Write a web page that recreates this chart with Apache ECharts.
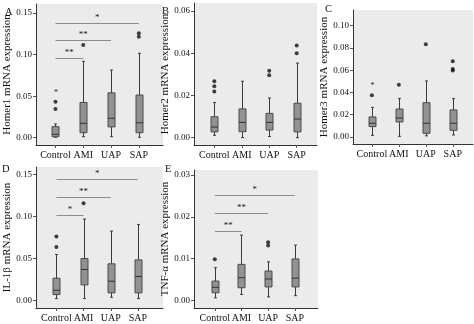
<!DOCTYPE html>
<html><head><meta charset="utf-8">
<script src="https://cdn.jsdelivr.net/npm/echarts@6/dist/echarts.min.js"></script>
<style>html,body{margin:0;padding:0;background:#fff}#c{width:474px;height:324px}</style>
</head><body><div id="c"></div>
<script>
const categories = ['Control', 'AMI', 'UAP', 'SAP'];

// box stats per category: [min, Q1, median, Q3, max]
const homer1Box = [[0.0005, 0.0012, 0.0041, 0.0133, 0.0165], [0.0012, 0.006, 0.0173, 0.0424, 0.092], [0.0012, 0.013, 0.0234, 0.054, 0.0815], [0.0005, 0.006, 0.018, 0.0514, 0.1016]];
const homer1Out = [[0, 0.0434], [0, 0.0346], [1, 0.1117], [3, 0.1258], [3, 0.1217]];
const homer1Ext = [[0, 0.0563]];
const homer1Ticks = [0, 0.05, 0.10, 0.15];
const homer1Sig = [[0, 1, 0.0957, '**'], [0, 2, 0.1177, '**'], [0, 3, 0.1386, '*']];

const homer2Box = [[0.0011, 0.0027, 0.005, 0.0099, 0.0166], [0.0, 0.0028, 0.0072, 0.0136, 0.0267], [0.0005, 0.0036, 0.0072, 0.0115, 0.0188], [0.0, 0.0027, 0.0088, 0.0163, 0.0353]];
const homer2Out = [[0, 0.0267], [0, 0.0243], [0, 0.0218], [2, 0.0317], [2, 0.0296], [3, 0.0436], [3, 0.040]];
const homer2Ext = [];
const homer2Ticks = [0, 0.02, 0.04, 0.06];
const homer2Sig = [];

const homer3Box = [[0.0015, 0.0093, 0.0123, 0.018, 0.0266], [0.0006, 0.0135, 0.017, 0.0251, 0.0347], [0.001, 0.0033, 0.0123, 0.0308, 0.0503], [0.0018, 0.006, 0.0123, 0.0243, 0.0344]];
const homer3Out = [[0, 0.0374], [1, 0.047], [2, 0.0832], [3, 0.068], [3, 0.0611], [3, 0.0596]];
const homer3Ext = [[0, 0.0473]];
const homer3Ticks = [0, 0.02, 0.04, 0.06, 0.08, 0.10];
const homer3Sig = [];

const il1bBox = [[0.002, 0.0068, 0.0119, 0.0263, 0.0545], [0.002, 0.0183, 0.0366, 0.0497, 0.0967], [0.0036, 0.0088, 0.0227, 0.0434, 0.0824], [0.002, 0.0088, 0.0283, 0.0481, 0.0903]];
const il1bOut = [[0, 0.076], [0, 0.0633], [1, 0.1154]];
const il1bExt = [];
const il1bTicks = [0, 0.05, 0.10, 0.15];
const il1bSig = [[0, 1, 0.101, '*'], [0, 2, 0.1226, '**'], [0, 3, 0.144, '*']];

const tnfaBox = [[0.0006, 0.0018, 0.0031, 0.0046, 0.0078], [0.0014, 0.003, 0.0054, 0.0086, 0.0156], [0.0008, 0.0032, 0.0051, 0.007, 0.0092], [0.0011, 0.0032, 0.0053, 0.0099, 0.0132]];
const tnfaOut = [[0, 0.0098], [2, 0.0139], [2, 0.0131]];
const tnfaExt = [];
const tnfaTicks = [0, 0.01, 0.02, 0.03];
const tnfaSig = [[0, 1, 0.0166, '**'], [0, 2, 0.021, '**'], [0, 3, 0.0253, '*']];

const panels = [
  {letter: 'A', title: 'Homer1 mRNA expression', box: homer1Box, out: homer1Out, ext: homer1Ext, ticks: homer1Ticks, sig: homer1Sig,
   grid: {left: 36, top: 4, width: 127, height: 141}, xr: [-0.70, 3.87], yr: [-0.0088, 0.161], lp: [5, 7], gap: 20},
  {letter: 'B', title: 'Homer2 mRNA expression', box: homer2Box, out: homer2Out, ext: homer2Ext, ticks: homer2Ticks, sig: homer2Sig,
   grid: {left: 194, top: 3, width: 123, height: 142}, xr: [-0.74, 3.74], yr: [-0.0035, 0.0638], lp: [162, 6], gap: 20},
  {letter: 'C', title: 'Homer3 mRNA expression', box: homer3Box, out: homer3Out, ext: homer3Ext, ticks: homer3Ticks, sig: homer3Sig,
   grid: {left: 353, top: 10, width: 120, height: 134}, xr: [-0.70, 3.75], yr: [-0.0063, 0.114], lp: [325, 4], gap: 19},
  {letter: 'D', title: 'IL-1β mRNA expression', box: il1bBox, out: il1bOut, ext: il1bExt, ticks: il1bTicks, sig: il1bSig,
   grid: {left: 36, top: 167, width: 127, height: 141}, xr: [-0.75, 3.92], yr: [-0.0092, 0.1587], lp: [2, 164], gap: 18},
  {letter: 'E', title: 'TNF-α mRNA expression', box: tnfaBox, out: tnfaOut, ext: tnfaExt, ticks: tnfaTicks, sig: tnfaSig,
   grid: {left: 194, top: 170, width: 124, height: 138}, xr: [-0.78, 3.87], yr: [-0.00185, 0.0312], lp: [165, 164], gap: 21}
];

const FONT = 'Liberation Serif';

function renderBox(params, api) {
  const x = api.value(0);
  const p = [1, 2, 3, 4, 5].map(i => api.coord([x, api.value(i)]));
  const cx = Math.round(p[0][0]) + 0.5;
  const hw = 3.5, cap = 1.5;
  const ls = {stroke: '#3a3a3a', lineWidth: 1};
  return {type: 'group', children: [
    {type: 'line', shape: {x1: cx, y1: p[4][1], x2: cx, y2: p[3][1]}, style: ls},
    {type: 'line', shape: {x1: cx, y1: p[1][1], x2: cx, y2: p[0][1]}, style: ls},
    {type: 'line', shape: {x1: cx - cap, y1: p[4][1], x2: cx + cap, y2: p[4][1]}, style: ls},
    {type: 'line', shape: {x1: cx - cap, y1: p[0][1], x2: cx + cap, y2: p[0][1]}, style: ls},
    {type: 'rect', shape: {x: cx - hw, y: p[3][1], width: 2 * hw, height: p[1][1] - p[3][1]}, style: {fill: '#929292', stroke: '#4a4a4a', lineWidth: 1}},
    {type: 'line', shape: {x1: cx - hw, y1: p[2][1], x2: cx + hw, y2: p[2][1]}, style: {stroke: '#333', lineWidth: 1}}
  ]};
}

function makeSigRender(sig) {
  return function (params, api) {
    const s = sig[params.dataIndex];
    const a = api.coord([s[0], s[2]]);
    const b = api.coord([s[1], s[2]]);
    const y = Math.round(a[1]) + 0.5;
    return {type: 'group', children: [
      {type: 'line', shape: {x1: a[0], y1: y, x2: b[0], y2: y}, style: {stroke: '#8c8c8c', lineWidth: 1}},
      {type: 'text', x: (a[0] + b[0]) / 2, y: y - 1, style: {text: s[3], fill: '#111', font: '9px "' + FONT + '"', align: 'center', verticalAlign: 'bottom'}}
    ]};
  };
}

function renderExt(params, api) {
  const p = api.coord([api.value(0), api.value(1)]);
  return {type: 'text', x: p[0] + 0.5, y: p[1] + 2, style: {text: '*', fill: '#222', font: '8px "' + FONT + '"', align: 'center', verticalAlign: 'middle'}};
}

const option = {
  animation: false,
  backgroundColor: '#fff',
  grid: [], xAxis: [], yAxis: [], series: [], graphic: []
};

panels.forEach((pn, i) => {
  option.grid.push(Object.assign({show: true, backgroundColor: '#ebebeb', borderWidth: 0}, pn.grid));
  option.xAxis.push({
    type: 'value', gridIndex: i, min: pn.xr[0], max: pn.xr[1],
    splitLine: {show: false},
    axisLine: {show: true, onZero: false, lineStyle: {color: '#333', width: 1}},
    axisTick: {show: true, length: 3, customValues: [0, 1, 2, 3], lineStyle: {color: '#555'}},
    axisLabel: {customValues: [0, 1, 2, 3], formatter: v => categories[Math.round(v)], fontFamily: FONT, fontSize: 10, color: '#111', margin: 5}
  });
  option.yAxis.push({
    type: 'value', gridIndex: i, min: pn.yr[0], max: pn.yr[1],
    splitLine: {show: false},
    axisLine: {show: true, onZero: false, lineStyle: {color: '#333', width: 1}},
    axisTick: {show: true, length: 3, customValues: pn.ticks, lineStyle: {color: '#555'}},
    axisLabel: {customValues: pn.ticks, formatter: v => v.toFixed(2), fontFamily: FONT, fontSize: 9, color: '#111', margin: 4},
    name: pn.title, nameLocation: 'middle', nameGap: pn.gap,
    nameTextStyle: {fontFamily: FONT, fontSize: 11, color: '#111'}
  });
  option.series.push({
    type: 'custom', xAxisIndex: i, yAxisIndex: i,
    renderItem: renderBox,
    encode: {x: 0, y: [1, 2, 3, 4, 5]},
    data: pn.box.map((b, k) => [k].concat(b))
  });
  option.series.push({
    type: 'scatter', xAxisIndex: i, yAxisIndex: i,
    symbol: 'circle', symbolSize: 4,
    itemStyle: {color: '#111'},
    data: pn.out
  });
  if (pn.ext.length) {
    option.series.push({
      type: 'custom', xAxisIndex: i, yAxisIndex: i,
      renderItem: renderExt, encode: {x: 0, y: 1},
      data: pn.ext
    });
  }
  if (pn.sig.length) {
    option.series.push({
      type: 'custom', xAxisIndex: i, yAxisIndex: i,
      renderItem: makeSigRender(pn.sig), encode: {x: [0, 1], y: 2},
      data: pn.sig.map(s => [s[0], s[1], s[2]])
    });
  }
  option.graphic.push({type: 'text', left: pn.lp[0], top: pn.lp[1],
    style: {text: pn.letter, font: '10.5px "' + FONT + '"', fill: '#111'}});
});

const chart = echarts.init(document.getElementById('c'), null, {renderer: 'canvas'});
chart.setOption(option);
</script>
</body></html>
